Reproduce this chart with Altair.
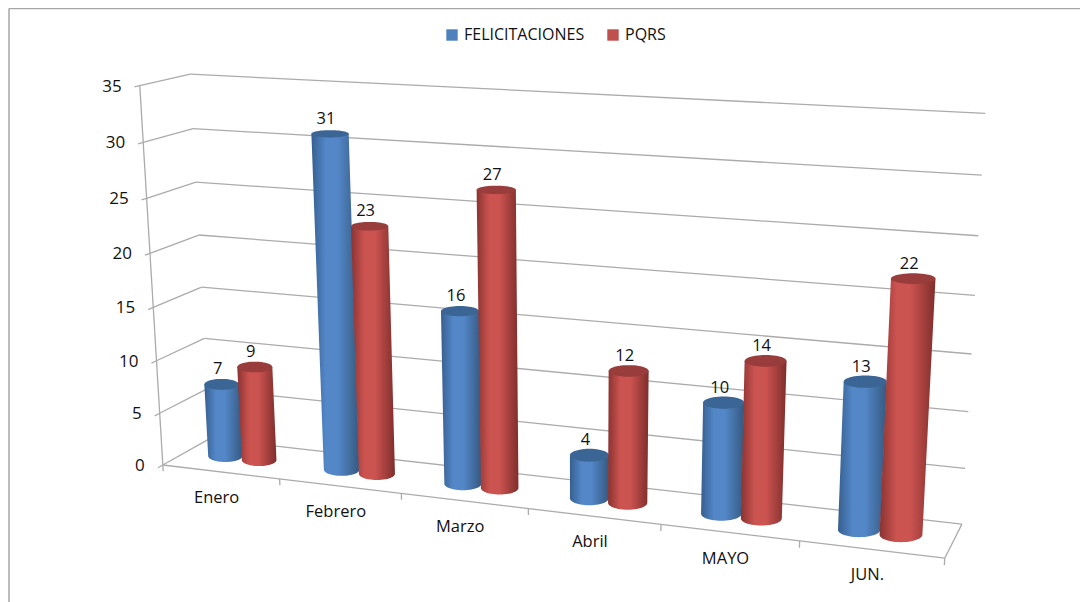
import altair as alt
import numpy as np
import pandas as pd

categories = ["Enero", "Febrero", "Marzo", "Abril", "MAYO", "JUN."]
felicitaciones = [7, 31, 16, 4, 10, 13]
pqrs = [9, 23, 27, 12, 14, 22]
value_ticks = [0, 5, 10, 15, 20, 25, 30, 35]
series_names = ["FELICITACIONES", "PQRS"]
series_colors = ["#4F81BD", "#C0504D"]

FONT = "Open Sans"
W, H = 1072, 594

# Camera of the 3-D box: (category position, value, depth) -> picture position
calibration = [
    ((0, 0, 0), (163, 464)), ((0, 5, 0), (159, 412)), ((0, 10, 0), (156, 360)),
    ((0, 25, 0), (147, 199)), ((0, 30, 0), (143, 142)), ((0, 35, 0), (140, 86)),
    ((0, 0, 1), (210, 439)), ((0, 25, 1), (196, 182)), ((0, 30, 1), (193, 128)),
    ((0, 35, 1), (190, 75)), ((1, 0, 0), (280, 480)), ((2, 0, 0), (402, 495)),
    ((5, 0, 0), (799, 542)), ((6, 0, 0), (945, 557)), ((6, 0, 1), (961, 524)),
    ((6, 5, 1), (965, 468)), ((6, 10, 1), (969, 412)), ((6, 15, 1), (972, 354)),
    ((6, 35, 1), (985, 113)),
]


def fit_camera(pairs):
    rows, rhs = [], []
    for (u, v, d), (x, y) in pairs:
        a = [u / 6, v / 35, d, 1]
        rows.append(a + [0, 0, 0, 0] + [-x * c for c in a[:3]])
        rhs.append(x)
        rows.append([0, 0, 0, 0] + a + [-y * c for c in a[:3]])
        rhs.append(y)
    s = np.linalg.lstsq(np.array(rows, float), np.array(rhs, float), rcond=None)[0]
    return np.append(s, 1.0).reshape(3, 4)


CAM = fit_camera(calibration)


def proj(u, v, d):
    h = CAM @ np.array([u / 6, v / 35, d, 1.0])
    return h[0] / h[2], h[1] / h[2]


# ---------- scales: every mark goes through these ----------
xs = alt.Scale(domain=[8, 8 + W], nice=False, zero=False)
ys = alt.Scale(domain=[8 + H, 8], nice=False, zero=False)
X = alt.X("x:Q", scale=xs, axis=None)
Y = alt.Y("y:Q", scale=ys, axis=None)

# ---------- box lines ----------
seg = []


def add_seg(a, b):
    seg.append({"x": a[0], "y": a[1], "x2": b[0], "y2": b[1]})


for v in value_ticks:
    add_seg(proj(0, v, 0), proj(0, v, 1))
    add_seg(proj(0, v, 1), proj(6, v, 1))
    add_seg(proj(0, v, 0), proj(0, v, -0.1))
add_seg(proj(0, 0, 0), proj(0, 35, 0))
add_seg(proj(0, 0, 0), proj(6, 0, 0))
add_seg(proj(6, 0, 0), proj(6, 0, 1))
for i in range(7):
    add_seg(proj(i, 0, 0), proj(i, -0.6, 0))

lines = alt.Chart(pd.DataFrame(seg)).mark_rule(color="#ABABAB", strokeWidth=1.3).encode(
    x=X, y=Y, x2="x2:Q", y2="y2:Q"
)

frame = alt.Chart(pd.DataFrame([
    {"x": 9, "y": 8.5, "x2": 8 + W, "y2": 8.5},
    {"x": 9, "y": 8.5, "x2": 9, "y2": 8 + H},
])).mark_rule(color="#A6A6A6", strokeWidth=1.5).encode(x=X, y=Y, x2="x2:Q", y2="y2:Q")

# ---------- cylinders ----------
DEPTH = 0.5
OFFSETS = [0.34, 0.635]
RADIUS = 0.15


def flat(v):
    # discs look flatter the nearer they are to eye level
    return 0.35 - 0.005 * v


def half_width(u, v):
    a = proj(u - RADIUS, v, DEPTH)
    b = proj(u + RADIUS, v, DEPTH)
    return abs(b[0] - a[0]) / 2


def body_rows(u, v):
    tx, ty = proj(u, v, DEPTH)
    bx, by = proj(u, 0, DEPTH)
    rt, rb = half_width(u, v), half_width(u, 0)
    rows = []
    for t in np.linspace(0, 1, 12):
        cx, r = tx + t * (bx - tx), rt + t * (rb - rt)
        rows.append({"y": ty + t * (by - ty), "xl": cx - r, "xr": cx + r})
    for a in np.linspace(0, np.pi / 2, 14)[1:]:
        rows.append({"y": by + flat(0) * rb * np.sin(a),
                     "xl": bx - rb * np.cos(a), "xr": bx + rb * np.cos(a)})
    return rows


def cap_rows(u, v):
    tx, ty = proj(u, v, DEPTH)
    r = half_width(u, v)
    return [{"y": ty + flat(v) * r * np.sin(a),
             "xl": tx - r * np.cos(a), "xr": tx + r * np.cos(a)}
            for a in np.linspace(-np.pi / 2, np.pi / 2, 25)]


def shading(edge_l, mid, edge_r):
    return alt.Gradient(
        gradient="linear", x1=0, x2=1, y1=0, y2=0,
        stops=[
            alt.GradientStop(color=edge_l, offset=0),
            alt.GradientStop(color=mid, offset=0.30),
            alt.GradientStop(color=mid, offset=0.55),
            alt.GradientStop(color=edge_r, offset=1),
        ],
    )


fills = [shading("#365F8F", "#5387C8", "#35597F"), shading("#8A3331", "#CB5350", "#7F2E2C")]
cap_colors = ["#3A6595", "#983D3B"]

bars = []
label_rows = []
for i in range(len(categories)):
    for s, vals in enumerate([felicitaciones, pqrs]):
        u = i + OFFSETS[s]
        v = vals[i]
        bars.append(alt.Chart(pd.DataFrame(body_rows(u, v))).mark_area(
            orient="horizontal", fill=fills[s]
        ).encode(y=Y, x=alt.X("xl:Q", scale=xs, axis=None), x2="xr:Q"))
        bars.append(alt.Chart(pd.DataFrame(cap_rows(u, v))).mark_area(
            orient="horizontal", color=cap_colors[s]
        ).encode(y=Y, x=alt.X("xl:Q", scale=xs, axis=None), x2="xr:Q"))
        x, y = proj(u, v, DEPTH)
        label_rows.append({"x": x, "y": y, "t": str(v)})

# legend comes from a real colour scale; its squares sit hidden under the caps
legend_src = pd.DataFrame({
    "x": [proj(OFFSETS[0], felicitaciones[0], DEPTH)[0], proj(OFFSETS[1], pqrs[0], DEPTH)[0]],
    "y": [proj(OFFSETS[0], felicitaciones[0], DEPTH)[1], proj(OFFSETS[1], pqrs[0], DEPTH)[1]],
    "serie": series_names,
})
legend_layer = alt.Chart(legend_src).mark_square(size=2, opacity=1).encode(
    x=X, y=Y,
    color=alt.Color("serie:N", sort=series_names, scale=alt.Scale(domain=series_names, range=series_colors),
                    legend=alt.Legend(
                        title=None, orient="none", legendX=436, legendY=19, direction="horizontal",
                        symbolType="square", symbolSize=130, symbolStrokeWidth=0, symbolOpacity=1,
                        labelFont=FONT, labelFontSize=16, labelColor="#111111", columnPadding=20,
                        labelOffset=4)),
)

value_labels = alt.Chart(pd.DataFrame(label_rows)).mark_text(
    font=FONT, fontSize=16.5, color="#111111", dx=-4, dy=-15
).encode(x=X, y=Y, text="t:N")

cat_rows = []
for i, c in enumerate(categories):
    x, y = proj(i + 0.5, 0, 0)
    cat_rows.append({"x": x, "y": y, "t": c})
cat_labels = alt.Chart(pd.DataFrame(cat_rows)).mark_text(
    font=FONT, fontSize=16.5, color="#111111", dx=-4, dy=26
).encode(x=X, y=Y, text="t:N")

tick_rows = []
for v in value_ticks:
    x, y = proj(0, v, 0)
    tick_rows.append({"x": x, "y": y, "t": str(v)})
tick_labels = alt.Chart(pd.DataFrame(tick_rows)).mark_text(
    font=FONT, fontSize=17, color="#111111", align="right", dx=-18, dy=1
).encode(x=X, y=Y, text="t:N")

chart = alt.layer(
    frame, lines, legend_layer, *bars, value_labels, cat_labels, tick_labels
).properties(
    width=W, height=H, padding=0, autosize=alt.AutoSizeParams(type="none"), background="white"
).configure_view(stroke=None)

chart.save("out.html", embed_options={"renderer": "svg", "actions": False})
